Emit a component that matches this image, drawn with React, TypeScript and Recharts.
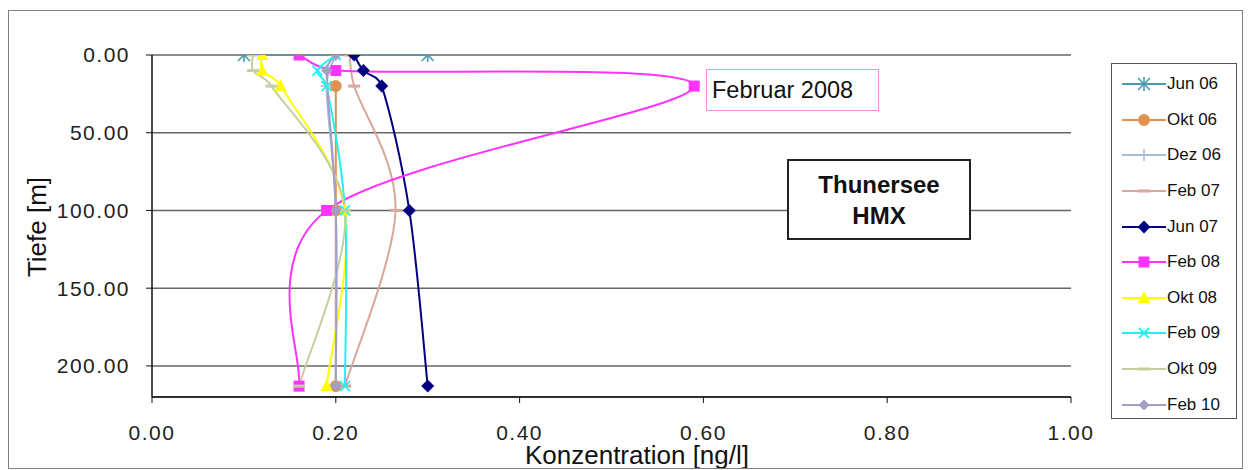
import React from 'react';
import { LineChart, Line, XAxis, YAxis, CartesianGrid, Legend, Label } from 'recharts';

// [Konzentration ng/l, Tiefe m]
type Pt = [number, number];

const jun06: Pt[] = [[0.10, 0], [0.30, 0]];
const okt06: Pt[] = [[0.20, 20], [0.20, 100], [0.20, 213]];
const dez06: Pt[] = [[0.20, 0], [0.19, 20], [0.20, 100], [0.20, 213]];
const feb07: Pt[] = [[0.215, 0], [0.22, 20], [0.265, 100], [0.21, 213]];
const jun07: Pt[] = [[0.22, 0], [0.23, 10], [0.25, 20], [0.28, 100], [0.30, 213]];
const feb08: Pt[] = [[0.16, 0], [0.20, 10], [0.59, 20], [0.19, 100], [0.16, 213]];
const okt08: Pt[] = [[0.12, 0], [0.12, 10], [0.14, 20], [0.21, 100], [0.19, 213]];
const feb09: Pt[] = [[0.20, 0], [0.18, 10], [0.19, 20], [0.21, 100], [0.21, 213]];
const okt09: Pt[] = [[0.11, 0], [0.11, 10], [0.13, 20], [0.21, 100], [0.16, 213]];
const feb10: Pt[] = [[0.20, 0], [0.19, 10], [0.20, 100], [0.20, 213]];

const seriesNames = ['Jun 06', 'Okt 06', 'Dez 06', 'Feb 07', 'Jun 07', 'Feb 08', 'Okt 08', 'Feb 09', 'Okt 09', 'Feb 10'];
const seriesPoints = [jun06, okt06, dez06, feb07, jun07, feb08, okt08, feb09, okt09, feb10];
const seriesColors = ['#4A9AB0', '#E0904F', '#A8BCDA', '#D9A79C', '#000080', '#FF33FF', '#FFFF00', '#22F0F5', '#C4D0A0', '#A39EC5'];
const seriesMarkers = ['star', 'circle', 'plus', 'dash', 'diamond', 'square', 'triangle', 'x', 'dash', 'smallDiamond'];

const xTicks = [0, 0.2, 0.4, 0.6, 0.8, 1.0];
const yTicks = [0, 50, 100, 150, 200];

const FONT = '"Liberation Sans", Arial, sans-serif';

// Excel-like smoothed line (Catmull-Rom beziers, tangents clamped on short segments)
const clampVec = (dx: number, dy: number, max: number) => {
  const l = Math.hypot(dx, dy);
  if (l === 0 || l <= max) return [dx, dy];
  return [(dx * max) / l, (dy * max) / l];
};

const excelSmooth = (ctx: any) => {
  let pts: number[][] = [];
  return {
    areaStart() {},
    areaEnd() {},
    lineStart() {
      pts = [];
    },
    point(x: number, y: number) {
      pts.push([+x, +y]);
    },
    lineEnd() {
      if (!pts.length) return;
      ctx.moveTo(pts[0][0], pts[0][1]);
      for (let i = 0; i < pts.length - 1; i++) {
        const p0 = pts[i - 1] || pts[i];
        const p1 = pts[i];
        const p2 = pts[i + 1];
        const p3 = pts[i + 2] || pts[i + 1];
        const len = Math.hypot(p2[0] - p1[0], p2[1] - p1[1]);
        const t1 = clampVec((p2[0] - p0[0]) / 6, (p2[1] - p0[1]) / 6, len * 0.5);
        const t2 = clampVec((p3[0] - p1[0]) / 6, (p3[1] - p1[1]) / 6, len * 0.5);
        ctx.bezierCurveTo(p1[0] + t1[0], p1[1] + t1[1], p2[0] - t2[0], p2[1] - t2[1], p2[0], p2[1]);
      }
    },
  };
};

function Marker({ kind, cx, cy, color }: { kind: string; cx: number; cy: number; color: string }) {
  if (cx == null || cy == null) return null;
  switch (kind) {
    case 'star':
      return (
        <g stroke={color} strokeWidth={1.6}>
          <line x1={cx - 6} y1={cy - 6} x2={cx + 6} y2={cy + 6} />
          <line x1={cx - 6} y1={cy + 6} x2={cx + 6} y2={cy - 6} />
          <line x1={cx} y1={cy - 7} x2={cx} y2={cy + 7} />
        </g>
      );
    case 'circle':
      return <circle cx={cx} cy={cy} r={5.5} fill={color} stroke={color} />;
    case 'plus':
      return (
        <g stroke={color} strokeWidth={1.6}>
          <line x1={cx - 6} y1={cy} x2={cx + 6} y2={cy} />
          <line x1={cx} y1={cy - 6} x2={cx} y2={cy + 6} />
        </g>
      );
    case 'dash':
      return <line x1={cx - 6} y1={cy} x2={cx + 6} y2={cy} stroke={color} strokeWidth={3} />;
    case 'diamond':
      return <polygon points={`${cx},${cy - 6.5} ${cx + 6.5},${cy} ${cx},${cy + 6.5} ${cx - 6.5},${cy}`} fill={color} />;
    case 'smallDiamond':
      return <polygon points={`${cx},${cy - 5.5} ${cx + 5.5},${cy} ${cx},${cy + 5.5} ${cx - 5.5},${cy}`} fill={color} />;
    case 'square':
      return <rect x={cx - 5.5} y={cy - 5.5} width={11} height={11} fill={color} />;
    case 'triangle':
      return <polygon points={`${cx},${cy - 7} ${cx + 6},${cy + 5} ${cx - 6},${cy + 5}`} fill={color} />;
    case 'x':
      return (
        <g stroke={color} strokeWidth={1.8}>
          <line x1={cx - 5} y1={cy - 5} x2={cx + 5} y2={cy + 5} />
          <line x1={cx - 5} y1={cy + 5} x2={cx + 5} y2={cy - 5} />
        </g>
      );
    default:
      return null;
  }
}

const series = seriesNames.map((name, i) => ({
  name,
  color: seriesColors[i],
  marker: seriesMarkers[i],
  data: seriesPoints[i].map(([conc, depth]) => ({ conc, depth })),
}));

function LegendBox() {
  return (
    <div
      style={{
        width: 126,
        height: 356,
        boxSizing: 'border-box',
        border: '1.5px solid #555',
        background: '#fff',
        paddingTop: 2.5,
        fontFamily: FONT,
      }}
    >
      {series.map((s) => (
        <div key={s.name} style={{ height: 35.6, display: 'flex', alignItems: 'center' }}>
          <svg width={56} height={20} style={{ marginLeft: 8, flexShrink: 0 }}>
            <line x1={2} y1={10} x2={46} y2={10} stroke={s.color} strokeWidth={2} />
            <Marker kind={s.marker} cx={24} cy={10} color={s.color} />
          </svg>
          <span style={{ fontSize: 17, color: '#111', marginLeft: -9 }}>{s.name}</span>
        </div>
      ))}
    </div>
  );
}

const tickStyle = { fill: '#222', fontSize: 21, fontFamily: FONT, letterSpacing: 1.5 };

export default function App() {
  return (
    <div
      style={{
        position: 'relative',
        marginTop: 2,
        width: 1235,
        height: 459,
        boxSizing: 'border-box',
        border: '1px solid #808080',
        background: '#fff',
        fontFamily: FONT,
        overflow: 'hidden',
      }}
    >
      <LineChart width={1233} height={457} layout="vertical" margin={{ top: 44, right: 171, bottom: 0, left: 0 }}>
        <CartesianGrid vertical={false} stroke="#666" strokeWidth={1.5} />
        <XAxis
          type="number"
          domain={[0, 1]}
          ticks={xTicks}
          allowDataOverflow
          tickFormatter={(v: number) => v.toFixed(2)}
          axisLine={{ stroke: '#111', strokeWidth: 1.5 }}
          tickLine={{ stroke: '#111' }}
          tickSize={6}
          tickMargin={22}
          height={71}
          tick={tickStyle}
        >
          <Label
            content={() => (
              <text x={628} y={453} textAnchor="middle" fontSize={26} fontFamily={FONT} fill="#111">
                Konzentration [ng/l]
              </text>
            )}
          />
        </XAxis>
        <YAxis
          type="number"
          dataKey="depth"
          domain={[0, 220]}
          ticks={yTicks}
          allowDataOverflow
          tickFormatter={(v: number) => v.toFixed(2)}
          axisLine={{ stroke: '#111', strokeWidth: 1.5 }}
          tickLine={{ stroke: '#111' }}
          tickSize={6}
          tickMargin={16}
          width={143}
          tick={tickStyle}
        >
          <Label
            content={() => (
              <text
                x={28}
                y={216}
                transform="rotate(-90 28 216)"
                textAnchor="middle"
                dominantBaseline="central"
                fontSize={26}
                fontFamily={FONT}
                fill="#111"
              >
                Tiefe [m]
              </text>
            )}
          />
        </YAxis>
        <Legend
          layout="vertical"
          align="center"
          verticalAlign="middle"
          wrapperStyle={{ position: 'absolute', left: 1102, top: 52, width: 126 }}
          content={() => <LegendBox />}
        />
        {series.map((s) => (
          <Line
            key={s.name}
            name={s.name}
            data={s.data}
            dataKey="conc"
            type={excelSmooth as any}
            stroke={s.color}
            strokeWidth={2}
            dot={(p: any) => (
              <Marker key={`${s.name}-${p.index}`} kind={s.marker} cx={p.cx} cy={p.cy} color={s.color} />
            )}
            activeDot={false}
            isAnimationActive={false}
          />
        ))}
      </LineChart>

      <div
        style={{
          position: 'absolute',
          left: 697,
          top: 58,
          width: 173,
          height: 42,
          boxSizing: 'border-box',
          border: '1.5px solid #F58CE8',
          background: '#fff',
          fontSize: 23.5,
          color: '#111',
          display: 'flex',
          alignItems: 'center',
          paddingLeft: 5,
        }}
      >
        Februar 2008
      </div>
      <div
        style={{
          position: 'absolute',
          left: 778,
          top: 148,
          width: 184,
          height: 81,
          boxSizing: 'border-box',
          border: '2px solid #222',
          background: '#fff',
          fontSize: 24,
          fontWeight: 'bold',
          color: '#111',
          textAlign: 'center',
          lineHeight: '31px',
          paddingTop: 8,
        }}
      >
        Thunersee
        <br />
        HMX
      </div>
    </div>
  );
}
